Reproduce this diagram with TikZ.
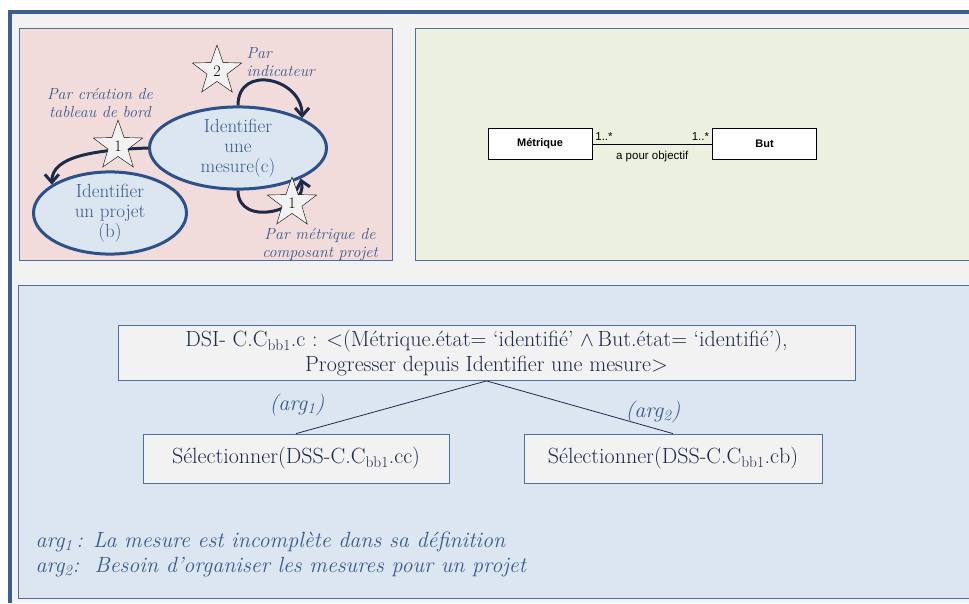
\documentclass[tikz,border=0pt]{standalone}
\usepackage{fontspec}
\newfontfamily\umlfont{Liberation Sans}
\usepackage{xcolor}
\usepackage{tikz}
\usetikzlibrary{shapes.geometric, arrows.meta, positioning}

\definecolor{cadrefort}{HTML}{3B6090}
\definecolor{cadre}{HTML}{4A6FA5}
\definecolor{fondgris}{HTML}{F2F2F2}
\definecolor{fondrose}{HTML}{F2DCDB}
\definecolor{fondvert}{HTML}{EBF1DE}
\definecolor{fondbleu}{HTML}{DCE6F1}
\definecolor{bordell}{HTML}{2C5089}
\definecolor{texte}{HTML}{3A5A8C}
\definecolor{marine}{HTML}{1C2B4A}

\begin{document}
\begin{tikzpicture}[x=1pt, y=-1pt, >={Straight Barb[length=8pt,width=14pt]},
    etat/.style={ellipse, draw=bordell, line width=3pt, fill=fondbleu, text=texte,
        align=center, inner sep=0pt, font=\fontsize{19}{20}\selectfont},
    etoile/.style={star, star points=5, star point ratio=2.5, minimum size=52pt,
        draw=black, fill=fondgris, inner sep=0pt, font=\fontsize{16}{17}\selectfont},
    fleche/.style={->, draw=marine, line width=3pt},
    etiq/.style={text=texte, align=center, font=\itshape\fontsize{16}{18}\selectfont},
    classe/.style={draw=black, fill=white, minimum width=104pt, minimum height=31pt,
        inner sep=0pt, font=\umlfont\bfseries\fontsize{11}{13}\selectfont},
    assoc/.style={font=\umlfont\fontsize{11.5}{12}\selectfont},
    boite/.style={draw=cadre, fill=fondgris, line width=0.8pt, inner sep=0pt, align=center,
        text=marine, font=\fontsize{22}{25}\selectfont},
    arg/.style={text=texte, font=\itshape\fontsize{22}{25}\selectfont}]
    \useasboundingbox (0,0) rectangle (969,603);
    % 1. Fond et cadre
    \fill[white] (0,0) rectangle (969,603);
    \fill[fondgris] (10,12) rectangle (969,603);
    \draw[cadrefort, line width=4.5pt] (10,603) -- (10,12) -- (969,12);

    % 2. Les trois panneaux
    \draw[cadre, fill=fondrose, line width=0.8pt] (19,28) rectangle (392,260);
    \draw[cadre, fill=fondvert, line width=0.8pt] (415,28) rectangle (975,260);
    \draw[cadre, fill=fondbleu, line width=0.8pt] (18,285) rectangle (975,598);

    % 3. Carte : deux intentions et les sections
    \node[etat, minimum width=177pt, minimum height=70pt] (mesure) at (238,148)
        {Identifier\\une\\mesure(c)};
    \node[etat, minimum width=153pt, minimum height=72pt] (projet) at (110,213)
        {Identifier\\un projet\\(b)};

    \draw[fleche] (mesure.west) .. controls +(-55,2) and +(0,-28) .. (projet.154);
    \draw[fleche] (mesure.north) .. controls +(0,-42) and +(0,-40) .. (mesure.25);
    \draw[fleche] (mesure.south) .. controls +(0,38) and +(8,32) .. (mesure.-26);

    \node[etoile] (etoileA) at (217,71) {2};
    \node[etoile] (etoileB) at (118,146) {1};
    \node[etoile] (etoileC) at (292,203) {1};

    \node[etiq, align=left, anchor=west] at (243,62) {Par\\indicateur};
    \node[etiq] at (100,103) {Par création de\\tableau de bord};
    \node[etiq] at (320,245) {Par métrique de\\composant projet};

    % 4. Diagramme de classes
    \node[classe] (metrique) at (540,144) {Métrique};
    \node[classe] (but) at (764.5,144) {But};
    \draw (metrique.east) -- (but.west)
        node[pos=0, above right, inner sep=3pt, assoc] {1..*}
        node[pos=1, above left, inner sep=3pt, assoc] {1..*}
        node[midway, below=4pt, assoc] {a pour objectif};

    % 5. Section et ses arguments
    \node[boite, minimum width=737pt, minimum height=55pt] (dsi) at (486.5,353)
        {DSI- C.C\textsubscript{bb1}.c : <(Métrique.état= ‘identifié’ $\wedge$\,But.état= ‘identifié’),\\
         Progresser depuis Identifier une mesure>};
    \node[boite, minimum width=306pt, minimum height=49pt] (selCC) at (296,458.5)
        {Sélectionner(DSS-C.C\textsubscript{bb1}.cc)};
    \node[boite, minimum width=298pt, minimum height=49pt] (selCB) at (673,458.5)
        {Sélectionner(DSS-C.C\textsubscript{bb1}.cb)};
    \draw[marine, line width=0.8pt] (dsi.south) -- (selCC.north);
    \draw[marine, line width=0.8pt] (dsi.south) -- (selCB.north);
    \node[arg] at (297,405) {(arg\textsubscript{1})};
    \node[arg] at (653,412) {(arg\textsubscript{2})};

    \node[arg, anchor=west, align=left] at (32,554)
        {arg\textsubscript{1}\,: La mesure est incomplète dans sa définition\\
         arg\textsubscript{2}:~~Besoin d’organiser les mesures pour un projet};
\end{tikzpicture}
\end{document}
